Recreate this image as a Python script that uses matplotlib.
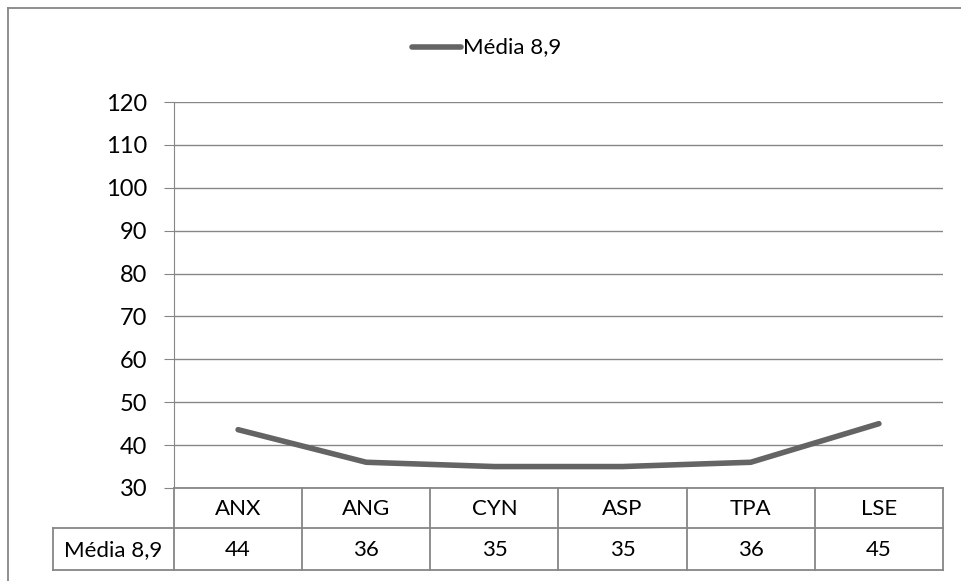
import matplotlib
matplotlib.use("Agg")
import matplotlib.pyplot as plt
from matplotlib.lines import Line2D

categories = ["ANX", "ANG", "CYN", "ASP", "TPA", "LSE"]
series_name = "Média 8,9"
values = [43.6, 36, 35, 35, 36, 45]
table_labels = ["44", "36", "35", "35", "36", "45"]
yticks = [30, 40, 50, 60, 70, 80, 90, 100, 110, 120]

plt.rcParams['font.family'] = ['Lato', 'DejaVu Sans']
FS = 16
W, H = 962, 581
fig = plt.figure(figsize=(W / 100, H / 100), dpi=100)
fig.patch.set_facecolor("white")

grid_c = "#868686"
line_c = "#646464"

def fx(px):
    return px / W

def fy(py):
    return 1 - py / H

x0, x1, ytop, ybot = 174, 943, 102, 488
ax = fig.add_axes([fx(x0), fy(ybot), fx(x1) - fx(x0), fy(ytop) - fy(ybot)])
ax.set_xlim(-0.5, len(categories) - 0.5)
ax.set_ylim(30, 120)
ax.set_yticks(yticks)
ax.set_yticklabels([str(t) for t in yticks], fontsize=FS + 1)
ax.set_xticks([])
ax.yaxis.grid(True, color=grid_c, linewidth=1)
ax.set_axisbelow(True)
for s in ["top", "right", "bottom"]:
    ax.spines[s].set_visible(False)
ax.spines["left"].set_color(grid_c)
ax.tick_params(axis="y", length=7, color=grid_c, pad=12)

ax.plot(range(len(categories)), values, color=line_c, linewidth=4,
        solid_capstyle="round", solid_joinstyle="round", clip_on=False)

# data table
lkw = dict(color=grid_c, linewidth=1.3, transform=fig.transFigure)
fig.add_artist(Line2D([fx(x0), fx(x1)], [fy(488), fy(488)], **lkw))
fig.add_artist(Line2D([fx(53), fx(x1)], [fy(528), fy(528)], **lkw))
fig.add_artist(Line2D([fx(53), fx(x1)], [fy(570), fy(570)], **lkw))
fig.add_artist(Line2D([fx(53), fx(53)], [fy(528), fy(570)], **lkw))
colw = (x1 - x0) / len(categories)
for i in range(len(categories) + 1):
    xb = x0 + i * colw
    fig.add_artist(Line2D([fx(xb), fx(xb)], [fy(488), fy(570)], **lkw))
for i, (c, v) in enumerate(zip(categories, table_labels)):
    xc = x0 + (i + 0.5) * colw
    fig.text(fx(xc), fy(509), c, ha="center", va="center", fontsize=FS)
    fig.text(fx(xc), fy(550), v, ha="center", va="center", fontsize=FS)
fig.text(fx(113), fy(550), series_name, ha="center", va="center", fontsize=FS)

# legend
fig.add_artist(Line2D([fx(412), fx(461)], [fy(47), fy(47)], color=line_c,
                      linewidth=4, solid_capstyle="round", transform=fig.transFigure))
fig.text(fx(463), fy(47), series_name, ha="left", va="center", fontsize=FS)

# outer border
bkw = dict(color=grid_c, linewidth=1.3, transform=fig.transFigure)
fig.add_artist(Line2D([fx(8), fx(8)], [fy(8), 0], **bkw))
fig.add_artist(Line2D([fx(8), 1], [fy(8), fy(8)], **bkw))

fig.savefig("out.png", dpi=100, facecolor="white")
